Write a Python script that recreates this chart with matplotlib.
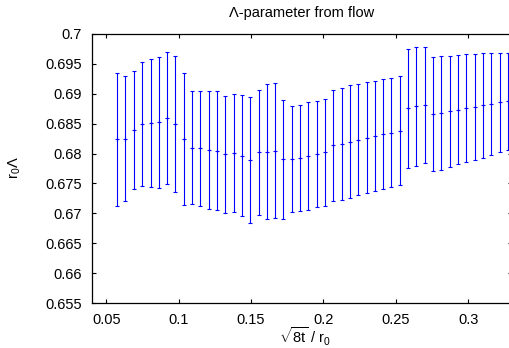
import numpy as np
import matplotlib
matplotlib.use("Agg")
import matplotlib.pyplot as plt

# ----------------------------
# Data
# ----------------------------
x_flow = [0.0576, 0.0633, 0.0691, 0.0748, 0.0806, 0.0863, 0.0920, 0.0978,
          0.1035, 0.1093, 0.1150, 0.1207, 0.1265, 0.1322, 0.1380, 0.1437,
          0.1494, 0.1552, 0.1609, 0.1667, 0.1724, 0.1781, 0.1839, 0.1896,
          0.1954, 0.2011, 0.2068, 0.2126, 0.2183, 0.2241, 0.2298, 0.2355,
          0.2413, 0.2470, 0.2528, 0.2585, 0.2642, 0.2700, 0.2757, 0.2815,
          0.2872, 0.2929, 0.2987, 0.3044, 0.3102, 0.3159, 0.3216, 0.3274]

lam_hi = [0.6935, 0.6929, 0.6938, 0.6953, 0.6959, 0.6962, 0.6970, 0.6963,
          0.6935, 0.6905, 0.6905, 0.6905, 0.6905, 0.6897, 0.6899, 0.6898,
          0.6895, 0.6907, 0.6916, 0.6918, 0.6890, 0.6879, 0.6882, 0.6886,
          0.6888, 0.6892, 0.6907, 0.6910, 0.6914, 0.6916, 0.6919, 0.6921,
          0.6924, 0.6926, 0.6929, 0.6975, 0.6978, 0.6979, 0.6961, 0.6963,
          0.6964, 0.6965, 0.6966, 0.6967, 0.6968, 0.6968, 0.6969, 0.6969]

lam_lo = [0.6713, 0.6720, 0.6740, 0.6746, 0.6744, 0.6742, 0.6749, 0.6736,
          0.6714, 0.6715, 0.6712, 0.6708, 0.6705, 0.6701, 0.6702, 0.6695,
          0.6684, 0.6697, 0.6690, 0.6692, 0.6691, 0.6702, 0.6704, 0.6706,
          0.6710, 0.6713, 0.6720, 0.6723, 0.6726, 0.6730, 0.6734, 0.6737,
          0.6741, 0.6744, 0.6748, 0.6776, 0.6780, 0.6785, 0.6770, 0.6773,
          0.6778, 0.6782, 0.6786, 0.6790, 0.6793, 0.6797, 0.6802, 0.6806]

yticks = [0.655, 0.66, 0.665, 0.67, 0.675, 0.68, 0.685, 0.69, 0.695, 0.7]
ytick_labels = ["0.655", "0.66", "0.665", "0.67", "0.675", "0.68",
                "0.685", "0.69", "0.695", "0.7"]
xticks = [0.05, 0.1, 0.15, 0.2, 0.25, 0.3]
xtick_labels = ["0.05", "0.1", "0.15", "0.2", "0.25", "0.3"]

# ----------------------------
# Style
# ----------------------------
plt.rcParams["font.family"] = ["Liberation Sans", "DejaVu Sans"]
plt.rcParams["font.size"] = 10.5
plt.rcParams["mathtext.fontset"] = "custom"
plt.rcParams["mathtext.rm"] = "Liberation Sans"
plt.rcParams["mathtext.it"] = "Liberation Sans"
plt.rcParams["mathtext.sf"] = "Liberation Sans"

hi = np.array(lam_hi)
lo = np.array(lam_lo)
center = (hi + lo) / 2
err = (hi - lo) / 2

fig = plt.figure(figsize=(5.09, 3.48), dpi=100)
ax = fig.add_axes([0.1802, 0.1293, 0.8251, 0.7730])

ax.errorbar(x_flow, center, yerr=err, fmt="+", color="#0000ff",
            ecolor="#0000ff", elinewidth=0.8, capsize=1.5, capthick=0.8,
            markersize=3.5, markeredgewidth=0.8)

ax.set_xlim(0.04, 0.33)
ax.set_ylim(0.655, 0.7)
ax.set_xticks(xticks)
ax.set_xticklabels(xtick_labels)
ax.set_yticks(yticks)
ax.set_yticklabels(ytick_labels)
ax.tick_params(direction="in", length=3.1, width=0.8, top=True, right=True,
               pad=7, colors="black")
for s in ax.spines.values():
    s.set_linewidth(0.9)

ax.set_title("\u039b-parameter from flow", pad=12, fontsize=10.5)
fig.text(305 / 509, 1 - 344 / 348, r"$\sqrt{8t}$ / r$_0$",
         ha="center", va="baseline", fontsize=10.5)
fig.text(15 / 509, 1 - 168 / 348, r"$\mathrm{r_0\Lambda}$", rotation=90,
         ha="center", va="center", fontsize=10.5)

fig.savefig("out.png", dpi=100)
